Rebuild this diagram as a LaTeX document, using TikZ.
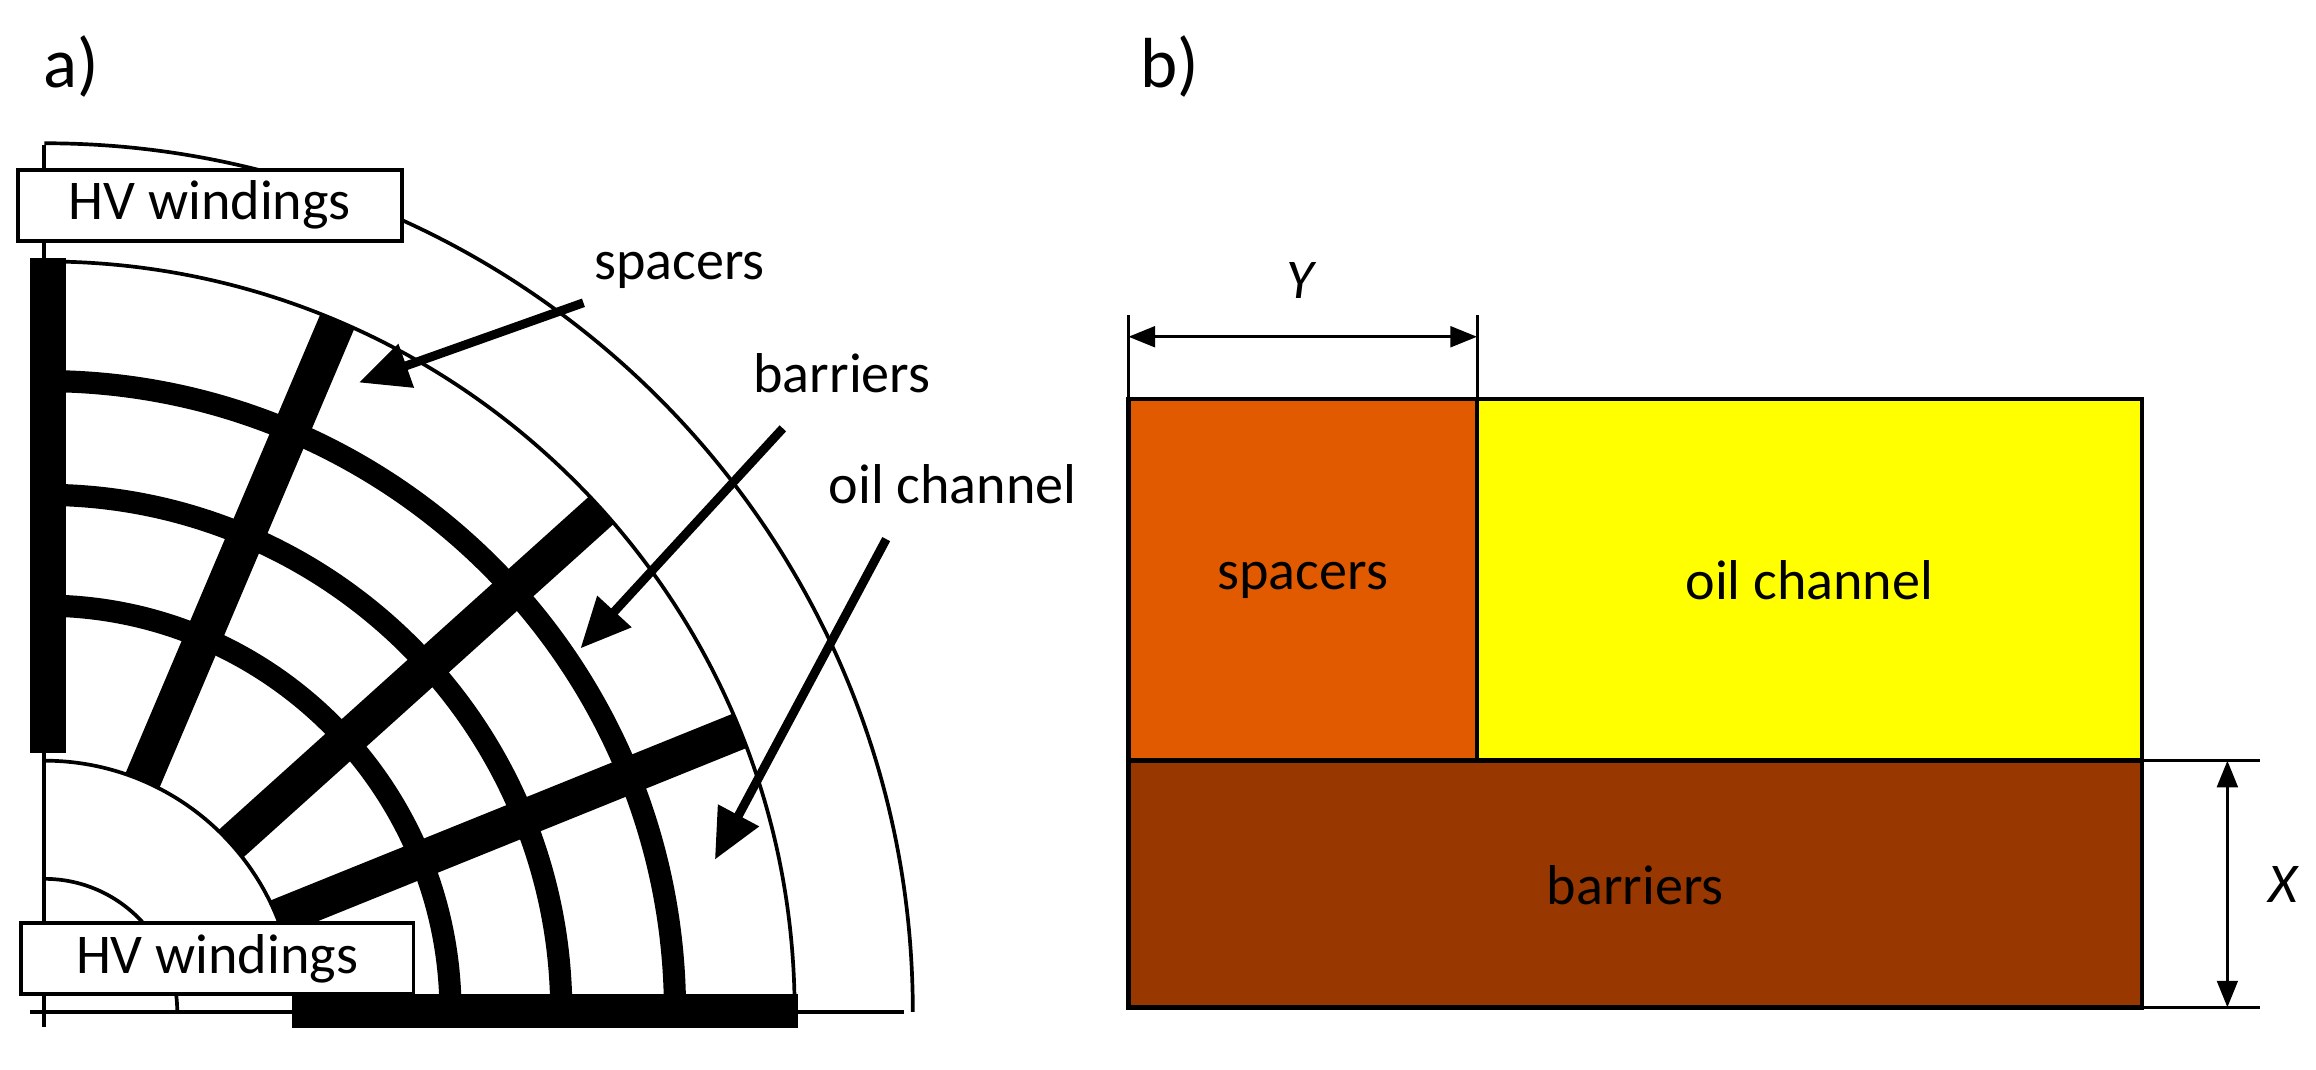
\documentclass[tikz,border=0pt]{standalone}
\usepackage{fontspec}
\setmainfont{Carlito}
\usetikzlibrary{arrows.meta,calc}
\begin{document}
\begin{tikzpicture}[x=1pt,y=1pt,
  thin line/.style={line width=2.5},
  barrier/.style={line width=15},
  spacer/.style={line width=25},
  lbl/.style={font=\fontsize{38}{44}\selectfont, inner sep=0},
  box/.style={draw, line width=2.5, fill=white, minimum width=260, minimum height=48, inner sep=2, font=\fontsize{38}{44}\selectfont},
  big arrow/.style={line width=6, -{Triangle[length=34,width=30]}},
  dim/.style={line width=2, {Triangle[length=18,width=14]}-{Triangle[length=18,width=14]}},
  rect/.style={draw, line width=3}]
\useasboundingbox (0,345) rectangle (1568,1069);
\coordinate (C) at (30,384);
% --- part a ---
\node[font=\fontsize{48}{54}\selectfont] (la) at (48,1024) {a)};
\draw[thin line] (30,971) -- (30,374);
\draw[thin line] (20,384) -- (612,384);
\draw[thin line] (C) ++(588,0) arc[start angle=0,end angle=90,radius=588];
\draw[thin line] (C) ++(508,0) arc[start angle=0,end angle=90,radius=508];
\draw[thin line] (C) ++(170,0) arc[start angle=0,end angle=90,radius=170];
\draw[thin line] (C) ++(90,0) arc[start angle=0,end angle=90,radius=90];
\foreach \r in {275,350,427}
  \draw[barrier] (C) ++(\r,0) arc[start angle=0,end angle=90,radius=\r];
\foreach \a in {67,42,22}
  \draw[spacer] ($(C)+(\a:170)$) -- ($(C)+(\a:508)$);
\fill (20,559) rectangle (45,894);
\fill (198,373) rectangle (540,396);
\node[box] (hv1) at (142,930) {HV windings};
\node[box, minimum width=266] (hv2) at (147,420) {HV windings};
\node[lbl] (sp) at (460,886) {spacers};
\node[lbl] (ba) at (570,816) {barriers};
\node[lbl] (oc) at (645,741) {oil channel};
\coordinate (s1) at (395,864); \coordinate (s2) at (243,810);
\coordinate (b1) at (530,779); \coordinate (b2) at (393,630);
\coordinate (o1) at (600,704); \coordinate (o2) at (484,487);
\draw[big arrow] (s1) -- (s2);
\draw[big arrow] (b1) -- (b2);
\draw[big arrow] (o1) -- (o2);
% --- part b ---
\node[font=\fontsize{48}{54}\selectfont] (lb) at (792,1024) {b)};
\draw[rect, fill={rgb,255:red,225;green,90;blue,0}] (764,554) rectangle (1000,799);
\draw[rect, fill={rgb,255:red,255;green,255;blue,0}] (1000,554) rectangle (1450,799);
\draw[rect, fill={rgb,255:red,152;green,56;blue,0}] (764,387) rectangle (1450,554);
\node[lbl] (t1) at (882,676) {spacers};
\node[lbl] (t2) at (1225,676) {oil channel};
\node[lbl] (t3) at (1107,470) {barriers};
\draw[line width=2] (764,799) -- (764,856);
\draw[line width=2] (1000,799) -- (1000,856);
\coordinate (y1) at (764,841); \coordinate (y2) at (1000,841);
\draw[dim] (y1) -- (y2);
\node[lbl, font=\fontsize{38}{44}\selectfont\itshape] (Y) at (880,879) {Y};
\draw[line width=2] (1450,554) -- (1530,554);
\draw[line width=2] (1450,387) -- (1530,387);
\coordinate (x1) at (1508,554); \coordinate (x2) at (1508,387);
\draw[dim] (x1) -- (x2);
\node[lbl, font=\fontsize{38}{44}\selectfont\itshape] (X) at (1546,470) {X};
\end{tikzpicture}
\end{document}
